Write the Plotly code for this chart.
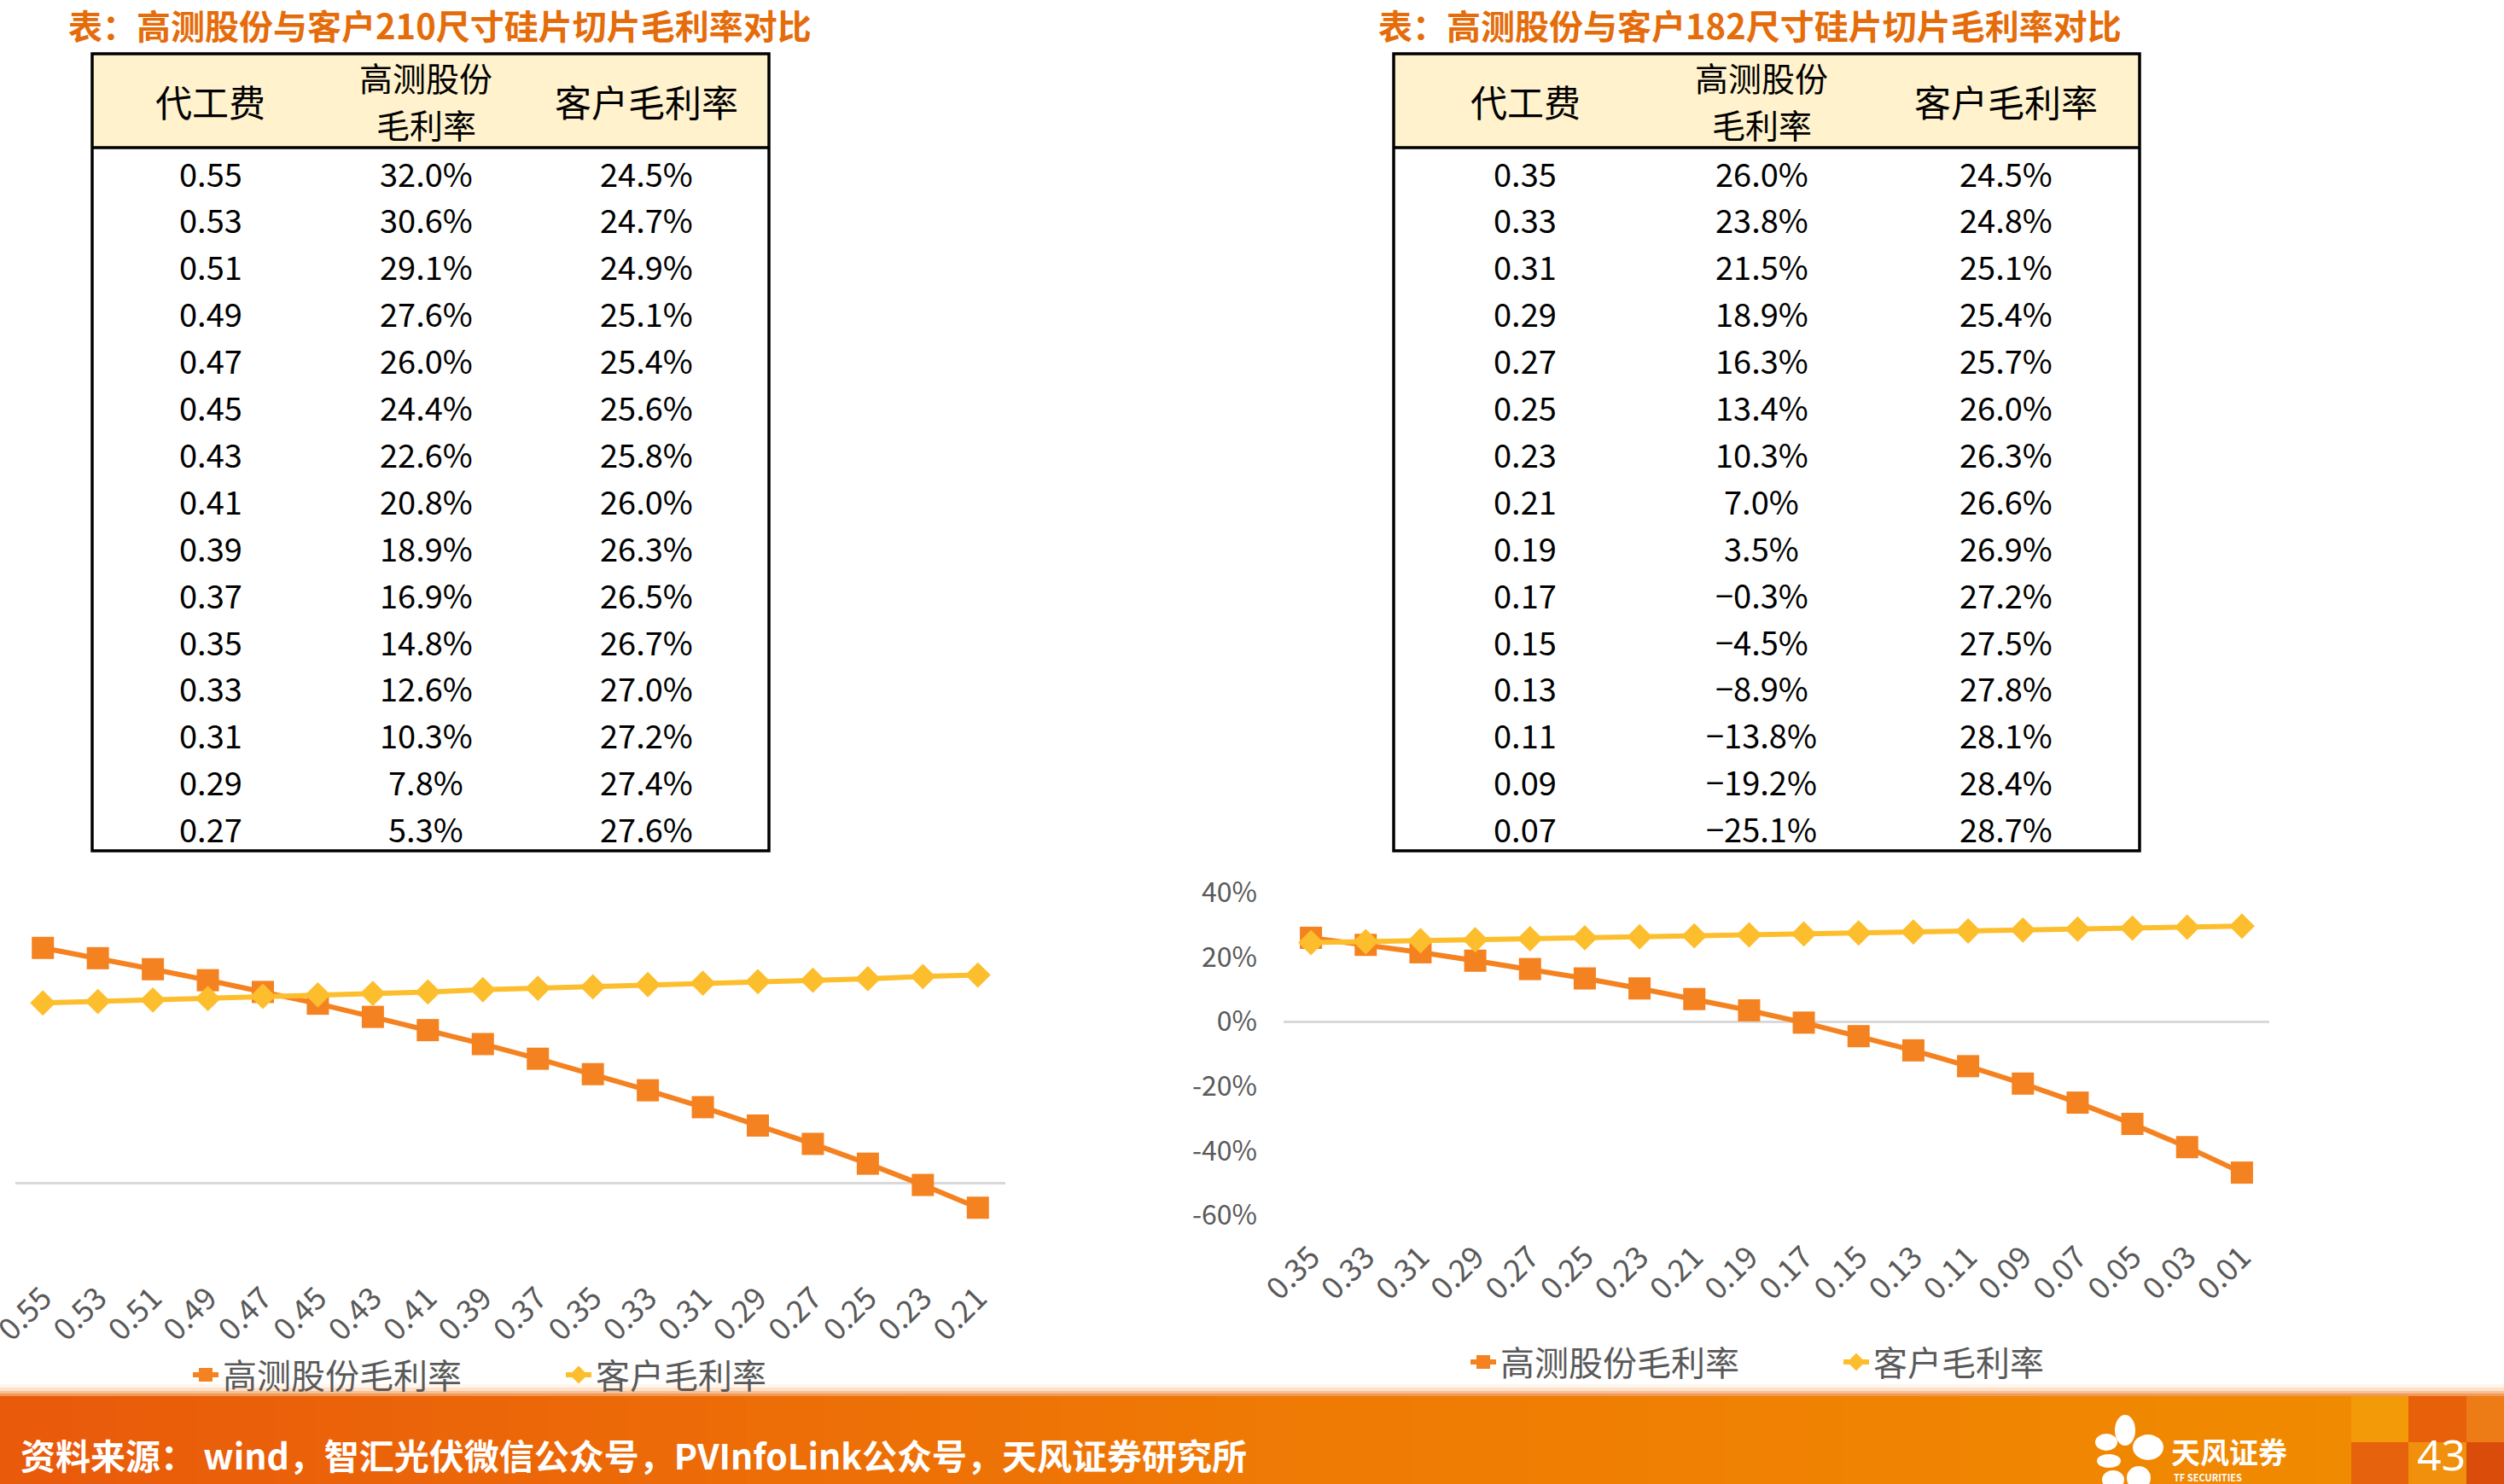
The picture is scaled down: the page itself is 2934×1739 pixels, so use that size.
import plotly.graph_objects as go

W, H = 2934, 1739
FONT = "Noto Sans CJK SC"

# ---------------- data ----------------
fee_210 = [0.55, 0.53, 0.51, 0.49, 0.47, 0.45, 0.43, 0.41, 0.39, 0.37, 0.35, 0.33, 0.31, 0.29, 0.27, 0.25, 0.23, 0.21]
gc_210 = [32.0, 30.6, 29.1, 27.6, 26.0, 24.4, 22.6, 20.8, 18.9, 16.9, 14.8, 12.6, 10.3, 7.8, 5.3, 2.6, -0.3, -3.4]
kh_210 = [24.5, 24.7, 24.9, 25.1, 25.4, 25.6, 25.8, 26.0, 26.3, 26.5, 26.7, 27.0, 27.2, 27.4, 27.6, 27.8, 28.1, 28.3]

fee_182 = [0.35, 0.33, 0.31, 0.29, 0.27, 0.25, 0.23, 0.21, 0.19, 0.17, 0.15, 0.13, 0.11, 0.09, 0.07, 0.05, 0.03, 0.01]
gc_182 = [26.0, 23.8, 21.5, 18.9, 16.3, 13.4, 10.3, 7.0, 3.5, -0.3, -4.5, -8.9, -13.8, -19.2, -25.1, -31.7, -38.9, -46.8]
kh_182 = [24.5, 24.8, 25.1, 25.4, 25.7, 26.0, 26.3, 26.6, 26.9, 27.2, 27.5, 27.8, 28.1, 28.4, 28.7, 29.0, 29.3, 29.6]

TABLE_ROWS = 15
title_210 = "表：高测股份与客户210尺寸硅片切片毛利率对比"
title_182 = "表：高测股份与客户182尺寸硅片切片毛利率对比"
series_names = ["高测股份毛利率", "客户毛利率"]
source_text = "资料来源： wind，智汇光伏微信公众号，PVInfoLink公众号，天风证券研究所"
y_ticks_182 = [-60, -40, -20, 0, 20, 40]

ORANGE = "#F58220"
YELLOW = "#FDBE2D"
GRAY = "#595959"
TITLE_C = "#E46C0A"


def X(p):
    return p / W


def Y(p):
    return 1 - p / H


fig = go.Figure()

x210 = [f"{v:.2f}" for v in fee_210]
x182 = [f"{v:.2f}" for v in fee_182]

LW = 6
SQ = 26
DM = 23
fig.add_trace(go.Scatter(x=x210, y=gc_210, name=series_names[0], mode="lines+markers",
                         line=dict(color=ORANGE, width=LW),
                         marker=dict(symbol="square", size=SQ, color=ORANGE),
                         xaxis="x", yaxis="y", legend="legend"))
fig.add_trace(go.Scatter(x=x210, y=kh_210, name=series_names[1], mode="lines+markers",
                         line=dict(color=YELLOW, width=LW),
                         marker=dict(symbol="diamond", size=DM, color=YELLOW),
                         xaxis="x", yaxis="y", legend="legend2"))
fig.add_trace(go.Scatter(x=x182, y=gc_182, name=series_names[0], mode="lines+markers",
                         line=dict(color=ORANGE, width=LW),
                         marker=dict(symbol="square", size=SQ, color=ORANGE),
                         xaxis="x2", yaxis="y2", legend="legend3"))
fig.add_trace(go.Scatter(x=x182, y=kh_182, name=series_names[1], mode="lines+markers",
                         line=dict(color=YELLOW, width=LW),
                         marker=dict(symbol="diamond", size=DM, color=YELLOW),
                         xaxis="x2", yaxis="y2", legend="legend4"))

xcommon = dict(type="category", showgrid=False, showline=False, zeroline=False, ticks="",
               tickangle=-45, range=[-0.5, 17.5], automargin=False,
               tickfont=dict(family=FONT, size=36, color=GRAY), ticklabelstandoff=20)

shapes = []
annotations = []


def legend_cfg(x_text, y):
    return dict(x=X(x_text - 45), y=Y(y), xanchor="left", yanchor="middle", orientation="h",
                font=dict(family=FONT, size=40, color=GRAY), bgcolor="rgba(0,0,0,0)",
                borderwidth=0)


# ---------------- tables ----------------
def draw_table(x0, x1, col_centers, fees, gcs, khs, title, title_cx):
    top, hdr_bot, bot = 63, 173, 997
    shapes.append(dict(type="rect", xref="paper", yref="paper", x0=X(x0), x1=X(x1), y0=Y(hdr_bot), y1=Y(top),
                       fillcolor="#FFF2CC", line=dict(width=0), layer="below"))
    shapes.append(dict(type="rect", xref="paper", yref="paper", x0=X(x0), x1=X(x1), y0=Y(bot), y1=Y(top),
                       fillcolor="rgba(0,0,0,0)", line=dict(color="black", width=3.5)))
    shapes.append(dict(type="line", xref="paper", yref="paper", x0=X(x0), x1=X(x1), y0=Y(hdr_bot), y1=Y(hdr_bot),
                       line=dict(color="black", width=3.5)))
    hf = dict(family=FONT, size=43, color="black")
    hf2 = dict(family=FONT, size=39, color="black")
    annotations.append(dict(text="代工费", x=X(col_centers[0]), y=Y(118), xref="paper", yref="paper",
                            showarrow=False, font=hf, xanchor="center", yanchor="middle"))
    annotations.append(dict(text="高测股份", x=X(col_centers[1]), y=Y(90), xref="paper", yref="paper",
                            showarrow=False, font=hf2, xanchor="center", yanchor="middle"))
    annotations.append(dict(text="毛利率", x=X(col_centers[1]), y=Y(145), xref="paper", yref="paper",
                            showarrow=False, font=hf2, xanchor="center", yanchor="middle"))
    annotations.append(dict(text="客户毛利率", x=X(col_centers[2]), y=Y(118), xref="paper", yref="paper",
                            showarrow=False, font=hf, xanchor="center", yanchor="middle"))
    df = dict(family=FONT, size=38, color="black")
    for i in range(TABLE_ROWS):
        yy = 202 + i * 54.9
        vals = [f"{fees[i]:.2f}", f"{gcs[i]:.1f}%".replace("-", "\u2212"), f"{khs[i]:.1f}%"]
        for c, v in enumerate(vals):
            annotations.append(dict(text=v, x=X(col_centers[c]), y=Y(yy), xref="paper", yref="paper",
                                    showarrow=False, font=df, xanchor="center", yanchor="middle"))
    annotations.append(dict(text=title, x=X(title_cx), y=Y(29), xref="paper", yref="paper", showarrow=False,
                            font=dict(family=FONT, size=40, color=TITLE_C, weight="bold"),
                            xanchor="center", yanchor="middle"))


draw_table(108, 901, [247, 499, 757], fee_210, gc_210, kh_210, title_210, 515)
draw_table(1633, 2507, [1787, 2064, 2350], fee_182, gc_182, kh_182, title_182, 2050)


# ---------------- footer ----------------
def hexmix(c1, c2, t):
    a = [int(c1[i:i + 2], 16) for i in (1, 3, 5)]
    b = [int(c2[i:i + 2], 16) for i in (1, 3, 5)]
    return "#" + "".join(f"{round(a[k] + (b[k] - a[k]) * t):02X}" for k in range(3))


fade = [(1622, 1626, "#FFF6EE"), (1626, 1630, "#FCE2CC"), (1630, 1633, "#F8BE90"), (1633, 1636, "#F29A55")]
for y0, y1, c in fade:
    shapes.append(dict(type="rect", xref="paper", yref="paper", x0=0, x1=1, y0=Y(y1), y1=Y(y0),
                       fillcolor=c, line=dict(width=0), layer="above"))
N = 60
xend = 2756
for i in range(N):
    t = i / (N - 1)
    if t < 0.5:
        c = hexmix("#E95A0B", "#EF7805", t / 0.5)
    else:
        c = hexmix("#EF7805", "#F08A00", (t - 0.5) / 0.5)
    shapes.append(dict(type="rect", xref="paper", yref="paper", x0=X(xend * i / N), x1=X(xend * (i + 1) / N + 1),
                       y0=0, y1=Y(1636), fillcolor=c, line=dict(width=0), layer="above"))
blocks = [(2755, 2822, 1636, 1690, "#F39A08"), (2755, 2822, 1690, 1739, "#E6620C"),
          (2822, 2890, 1636, 1690, "#E8600A"), (2822, 2890, 1690, 1739, "#F0900C"),
          (2890, 2934, 1636, 1690, "#EE7C16"), (2890, 2934, 1690, 1739, "#D94C0A")]
for x0, x1, y0, y1, c in blocks:
    shapes.append(dict(type="rect", xref="paper", yref="paper", x0=X(x0), x1=X(x1), y0=Y(y1), y1=Y(y0),
                       fillcolor=c, line=dict(width=0), layer="above"))
petals = [(2490, 1676, 24, 36), (2517, 1696, 36, 30), (2468, 1690, 26, 20), (2471, 1712, 28, 16),
          (2476, 1734, 26, 22), (2506, 1732, 28, 28)]
for cx, cy, w, h in petals:
    shapes.append(dict(type="circle", xref="paper", yref="paper", x0=X(cx - w / 2), x1=X(cx + w / 2),
                       y0=Y(cy + h / 2), y1=Y(cy - h / 2), fillcolor="white", line=dict(width=0), layer="above"))

annotations.append(dict(text=source_text, x=X(22), y=Y(1704), xref="paper", yref="paper", showarrow=False,
                        font=dict(family=FONT, size=41, color="white", weight="bold"),
                        xanchor="left", yanchor="middle"))
annotations.append(dict(text="天风证券", x=X(2612), y=Y(1700), xref="paper", yref="paper", showarrow=False,
                        font=dict(family=FONT, size=34, color="white", weight="bold"),
                        xanchor="center", yanchor="middle"))
annotations.append(dict(text="TF SECURITIES", x=X(2545), y=Y(1731), xref="paper", yref="paper", showarrow=False,
                        font=dict(family=FONT, size=11, color="white", weight="bold"),
                        xanchor="left", yanchor="middle"))
annotations.append(dict(text="43", x=X(2860), y=Y(1704), xref="paper", yref="paper", showarrow=False,
                        font=dict(family="Noto Sans", size=50, color="white"),
                        xanchor="center", yanchor="middle"))

fig.update_layout(
    template="none",
    width=W, height=H, autosize=False, margin=dict(l=0, r=0, t=0, b=0, pad=0, autoexpand=False),
    paper_bgcolor="white", plot_bgcolor="white",
    showlegend=True,
    xaxis=dict(domain=[X(18), X(1178)], anchor="y", **xcommon),
    yaxis=dict(domain=[Y(1472), Y(1042)], anchor="x", range=[-10, 40], showgrid=False, zeroline=True,
               zerolinecolor="#D9D9D9", zerolinewidth=3, showticklabels=False, ticks="", showline=False,
               automargin=False),
    xaxis2=dict(domain=[X(1504), X(2659)], anchor="y2", **xcommon),
    yaxis2=dict(domain=[Y(1424), Y(1046)], anchor="x2", range=[-60, 40], showgrid=False, zeroline=True,
                zerolinecolor="#D9D9D9", zerolinewidth=3, ticks="", showline=False, automargin=False,
                tickvals=y_ticks_182, ticktext=[f"{v}%" for v in y_ticks_182],
                tickfont=dict(family=FONT, size=32, color=GRAY), ticklabelstandoff=30),
    legend=legend_cfg(266, 1611),
    legend2=legend_cfg(703, 1611),
    legend3=legend_cfg(1763, 1596),
    legend4=legend_cfg(2200, 1596),
    shapes=shapes, annotations=annotations,
)

post = ("document.documentElement.style.margin='0';document.documentElement.style.padding='0';"
        "document.body.style.margin='0';document.body.style.padding='0';"
        "document.documentElement.style.overflow='hidden';document.body.style.overflow='hidden';")
fig.write_html("out.html", post_script=post)
